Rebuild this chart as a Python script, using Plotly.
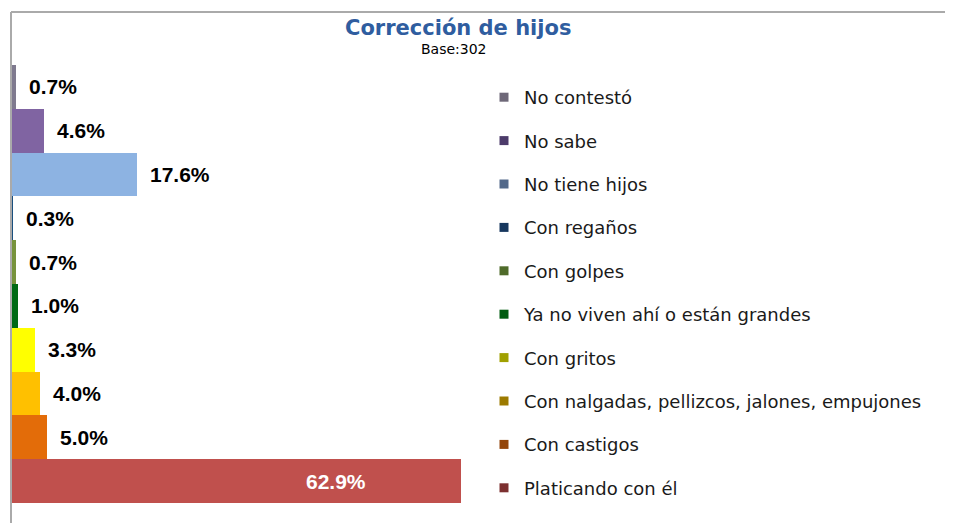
import plotly.graph_objects as go

categories = ["No contestó", "No sabe", "No tiene hijos", "Con regaños", "Con golpes",
              "Ya no viven ahí o están grandes", "Con gritos",
              "Con nalgadas, pellizcos, jalones, empujones", "Con castigos",
              "Platicando con él"]
values = [0.7, 4.6, 17.6, 0.3, 0.7, 1.0, 3.3, 4.0, 5.0, 62.9]
labels = ["0.7%", "4.6%", "17.6%", "0.3%", "0.7%", "1.0%", "3.3%", "4.0%", "5.0%", "62.9%"]
bar_colors = ["#7f7a8f", "#8064a2", "#8db3e2", "#1a4f7e", "#77933c", "#006a14",
              "#ffff00", "#ffc000", "#e36c09", "#c0504d"]
legend_colors = ["#6e6878", "#4c3b6a", "#53698a", "#17375e", "#4f6b2a", "#005c10",
                 "#a0a000", "#9c7a00", "#93450a", "#7c3030"]
title = "Corrección de hijos"
subtitle = "Base:302"

# the page body adds an 8px margin; lay out in page pixels and convert
OFF = 8
W, H = 953 - 2 * OFF, 531 - 2 * OFF
L = 11 - OFF
T = 65 - OFF
B = 0
PW = 480
R = W - L - PW
PH = H - T - B
px_per_unit = 450 / 62.9
xmax = PW / px_per_unit
slot = 43.8
nslots = PH / slot

def px(page_x):
    return (page_x - OFF - L) / PW

def py(page_y):
    return (H - B - (page_y - OFF)) / PH

fig = go.Figure()
fig.add_trace(go.Bar(
    x=values, y=categories, orientation="h",
    marker=dict(color=bar_colors, line=dict(width=0)),
    showlegend=False, hoverinfo="x+y",
))

for cat, col in zip(categories, legend_colors):
    fig.add_trace(go.Scatter(
        x=[None], y=[None], mode="markers", name=cat, legendgroup=cat,
        marker=dict(symbol="square", size=9, color=col),
    ))

annotations = []
for cat, v, lab in zip(categories, values, labels):
    if v > 50:
        annotations.append(dict(x=v, y=cat, xref="x", yref="y", text=lab,
                                showarrow=False, xanchor="center", xshift=-125,
                                font=dict(family="Liberation Sans, Arial", size=21,
                                          color="white", weight="bold")))
    else:
        annotations.append(dict(x=v, y=cat, xref="x", yref="y", text=lab,
                                showarrow=False, xanchor="left", xshift=11,
                                font=dict(family="Liberation Sans, Arial", size=21,
                                          color="black", weight="bold")))

annotations.append(dict(x=px(458), y=py(28), xref="paper", yref="paper", text=title,
                        showarrow=False, xanchor="center", yanchor="middle",
                        font=dict(family="DejaVu Sans", size=21, color="#2f5d9f",
                                  weight="bold")))
annotations.append(dict(x=px(454), y=py(49), xref="paper", yref="paper", text=subtitle,
                        showarrow=False, xanchor="center", yanchor="middle",
                        font=dict(family="DejaVu Sans", size=14, color="black")))

frame_line = dict(color="#aaaaaa", width=2)

fig.update_layout(
    width=W, height=H,
    margin=dict(l=L, r=R, t=T, b=B, pad=0),
    paper_bgcolor="white", plot_bgcolor="rgba(0,0,0,0)",
    bargap=0,
    xaxis=dict(range=[0, xmax], showgrid=False, zeroline=False, showticklabels=False,
               showline=False, ticks=""),
    yaxis=dict(type="category", categoryorder="array", categoryarray=categories,
               range=[nslots - 0.5, -0.5], showgrid=False, zeroline=False,
               showticklabels=False, showline=False, ticks=""),
    showlegend=True,
    legend=dict(x=px(484), y=py(79), xanchor="left", yanchor="top",
                traceorder="grouped", tracegroupgap=17,
                font=dict(family="DejaVu Sans", size=18, color="#1a1a1a"),
                bgcolor="rgba(0,0,0,0)", borderwidth=0, itemsizing="trace"),
    annotations=annotations,
    shapes=[
        dict(type="line", xref="paper", yref="paper",
             x0=px(11), x1=px(960), y0=py(12), y1=py(12), line=frame_line, layer="above"),
        dict(type="line", xref="paper", yref="paper",
             x0=px(11), x1=px(11), y0=py(12), y1=py(540), line=frame_line, layer="above"),
    ],
)

fig.write_html("out.html")
